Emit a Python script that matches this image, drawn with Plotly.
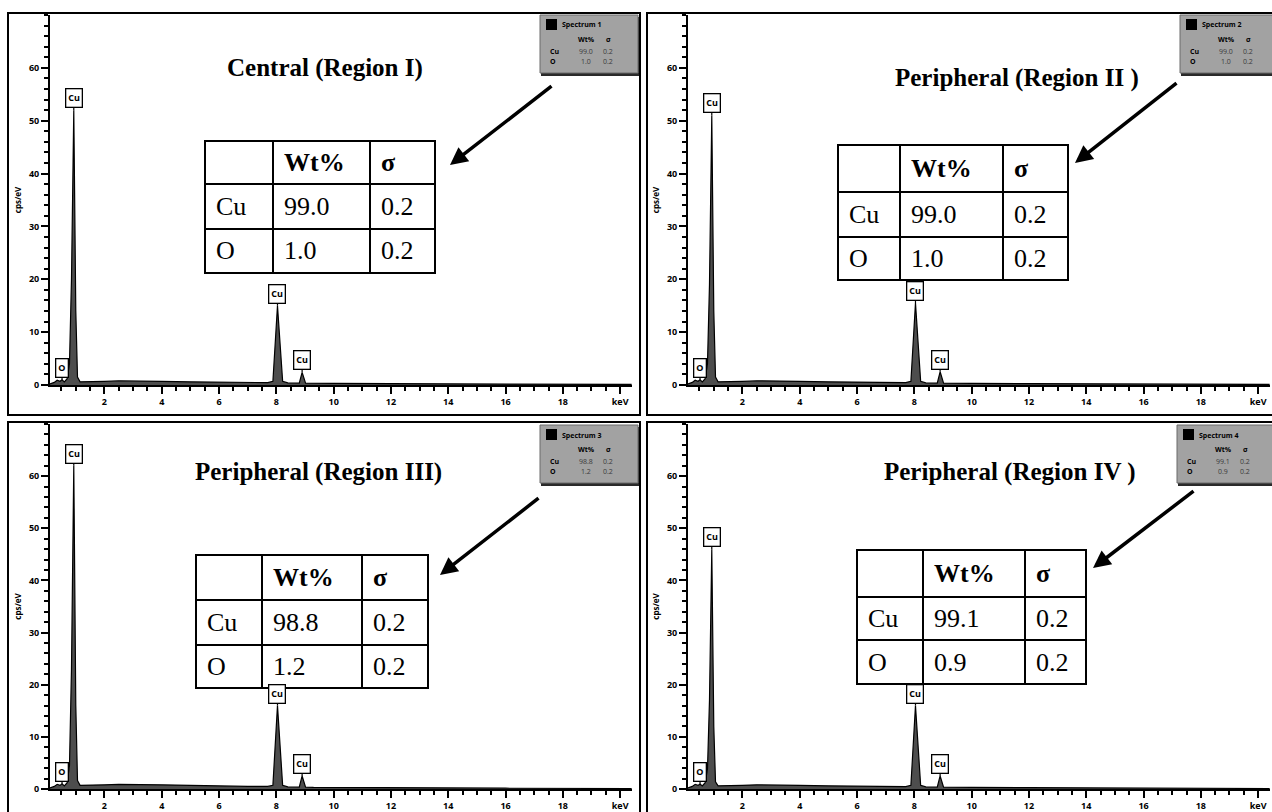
import plotly.graph_objects as go

W, H = 1272, 812

# ---------------- data ----------------
energy_kev = [0.1, 0.25, 0.35, 0.45, 0.52, 0.6, 0.7, 0.78, 0.85, 0.93, 1.0, 1.06, 1.15, 1.4,
              2.0, 2.5, 3.0, 4.0, 5.0, 6.0, 7.0, 7.7, 7.88, 8.04, 8.22, 8.4, 8.8, 8.9, 9.02,
              9.3, 10.0, 12.0, 14.0, 16.0, 18.0, 20.4]

counts_region1 = [0.2, 0.5, 0.9, 0.7, 1.0, 0.6, 1.2, 4.0, 20.0, 52.0, 14.0, 1.5, 0.6, 0.6,
                  0.7, 0.8, 0.8, 0.7, 0.6, 0.5, 0.45, 0.45, 0.7, 15.0, 0.7, 0.4, 0.35, 2.4, 0.35,
                  0.3, 0.3, 0.25, 0.2, 0.15, 0.12, 0.1]
counts_region2 = [0.2, 0.5, 0.9, 0.7, 1.0, 0.6, 1.2, 4.0, 19.0, 51.0, 14.0, 1.5, 0.6, 0.6,
                  0.7, 0.8, 0.8, 0.7, 0.6, 0.5, 0.45, 0.45, 0.7, 15.5, 0.7, 0.4, 0.35, 2.5, 0.35,
                  0.3, 0.3, 0.25, 0.2, 0.15, 0.12, 0.1]
counts_region3 = [0.2, 0.5, 0.9, 0.7, 1.0, 0.6, 1.2, 4.5, 23.0, 62.0, 16.0, 1.6, 0.7, 0.7,
                  0.8, 0.9, 0.9, 0.8, 0.7, 0.55, 0.5, 0.5, 0.7, 16.0, 0.7, 0.4, 0.35, 2.5, 0.35,
                  0.3, 0.3, 0.25, 0.2, 0.15, 0.12, 0.1]
counts_region4 = [0.2, 0.5, 0.9, 0.7, 0.9, 0.6, 1.2, 3.8, 17.0, 46.0, 12.0, 1.4, 0.6, 0.6,
                  0.7, 0.8, 0.8, 0.7, 0.6, 0.5, 0.45, 0.45, 0.7, 16.0, 0.7, 0.4, 0.35, 2.5, 0.35,
                  0.3, 0.3, 0.25, 0.2, 0.15, 0.12, 0.1]

peak_elements = ["O", "Cu", "Cu", "Cu"]
peak_energies = [0.52, 0.93, 8.04, 8.9]

titles = ["Central (Region I)", "Peripheral (Region II )",
          "Peripheral (Region III)", "Peripheral (Region IV )"]
spectrum_names = ["Spectrum 1", "Spectrum 2", "Spectrum 3", "Spectrum 4"]
table_elements = ["Cu", "O"]
wt_cu = ["99.0", "99.0", "98.8", "99.1"]
wt_o = ["1.0", "1.0", "1.2", "0.9"]
sigma_cu = ["0.2", "0.2", "0.2", "0.2"]
sigma_o = ["0.2", "0.2", "0.2", "0.2"]

x_tick_vals = [2, 4, 6, 8, 10, 12, 14, 16, 18, 20]
x_tick_text = ["2", "4", "6", "8", "10", "12", "14", "16", "18", "keV"]
y_tick_vals = [0, 10, 20, 30, 40, 50, 60]

spectra = [counts_region1, counts_region2, counts_region3, counts_region4]

# ---------------- layout geometry (pixels) ----------------
geo = [
    dict(axl=50, axr=632, y0=385, ytop=15, frame=(8, 13, 640, 415),
         cols=[205, 273, 370, 435], rows=[141, 184, 229, 273], title=(325, 68),
         arrow=((553, 85), (450, 165)), box=(540, 15)),
    dict(axl=688, axr=1270, y0=385, ytop=15, frame=(647, 13, 1290, 415),
         cols=[838, 900, 1003, 1068], rows=[145, 192, 237, 280], title=(1017, 78),
         arrow=((1178, 82), (1075, 163)), box=(1180, 15)),
    dict(axl=50, axr=632, y0=789, ytop=424, frame=(8, 422, 640, 830),
         cols=[196, 262, 362, 428], rows=[555, 600, 645, 688], title=(318, 472),
         arrow=((540, 497), (440, 575)), box=(540, 425)),
    dict(axl=688, axr=1270, y0=789, ytop=424, frame=(647, 422, 1290, 830),
         cols=[857, 923, 1025, 1086], rows=[550, 597, 640, 684], title=(1010, 472),
         arrow=((1195, 490), (1093, 568)), box=(1177, 425)),
]


def fx(px):
    return px / W


def fy(py):
    return 1 - py / H


SERIF = "Liberation Serif, Times New Roman, serif"
SANS = "Open Sans, DejaVu Sans, sans-serif"
X_MIN = 0.1
PX_PER_KEV = 28.65

fig = go.Figure()
shapes = []
annotations = []
layout_axes = {}

for i, g in enumerate(geo):
    n = "" if i == 0 else str(i + 1)
    xa, ya = "x" + n, "y" + n
    counts = spectra[i]
    fig.add_trace(go.Scatter(
        x=energy_kev, y=counts, xaxis=xa, yaxis=ya, mode="lines",
        line=dict(color="black", width=1.2), fill="tozeroy",
        fillcolor="#4d4d4d", showlegend=False, hoverinfo="skip"))

    x_max = X_MIN + (g["axr"] - g["axl"]) / PX_PER_KEV
    layout_axes["xaxis" + n] = dict(
        domain=[fx(g["axl"]), fx(g["axr"])], range=[X_MIN, x_max], anchor=ya,
        tickmode="array", tickvals=x_tick_vals, ticktext=x_tick_text,
        ticks="outside", ticklen=7, tickwidth=2, tickcolor="black",
        showline=True, linecolor="black", linewidth=2, showgrid=False, zeroline=False,
        tickfont=dict(family=SANS, size=9, color="black", weight="bold"),
        minor=dict(dtick=0.5, tick0=0, ticks="outside", ticklen=4, tickwidth=1.5,
                   tickcolor="black", showgrid=False),
        fixedrange=True)
    layout_axes["yaxis" + n] = dict(
        domain=[fy(g["y0"]), fy(g["ytop"])], range=[0, 70], anchor=xa,
        tickmode="array", tickvals=y_tick_vals,
        ticks="outside", ticklen=7, tickwidth=2, tickcolor="black",
        showline=True, linecolor="black", linewidth=2, showgrid=False, zeroline=False,
        tickfont=dict(family=SANS, size=9, color="black", weight="bold"),
        minor=dict(dtick=2, tick0=0, ticks="outside", ticklen=4, tickwidth=1.5,
                   tickcolor="black", showgrid=False),
        title=dict(text="cps/eV", font=dict(family=SANS, size=8, color="black", weight="bold"),
                   standoff=6),
        fixedrange=True)

    # peak labels
    for el, e in zip(peak_elements, peak_energies):
        k = energy_kev.index(e)
        annotations.append(dict(
            x=e, y=counts[k], xref=xa, yref=ya, text=el, showarrow=True,
            arrowhead=0, arrowwidth=1.2, arrowcolor="black", ax=0, ay=-12,
            bordercolor="black", borderwidth=1.3, borderpad=2, bgcolor="white",
            font=dict(family=SANS, size=9, color="black", weight="bold")))

    # panel frame
    fx0, fy0, fx1, fy1 = g["frame"]
    shapes.append(dict(type="rect", xref="paper", yref="paper",
                       x0=fx(fx0), x1=fx(fx1), y0=fy(fy0), y1=fy(fy1),
                       line=dict(color="black", width=2), layer="below"))

    # title
    tx, ty = g["title"]
    annotations.append(dict(x=fx(tx), y=fy(ty), xref="paper", yref="paper", showarrow=False,
                            text="<b>" + titles[i] + "</b>", xanchor="center", yanchor="middle",
                            font=dict(family=SERIF, size=25, color="black")))

    # table
    cols, rows = g["cols"], g["rows"]
    shapes.append(dict(type="rect", xref="paper", yref="paper",
                       x0=fx(cols[0]), x1=fx(cols[-1]), y0=fy(rows[0]), y1=fy(rows[-1]),
                       fillcolor="white", line=dict(color="black", width=2)))
    for c in cols[1:-1]:
        shapes.append(dict(type="line", xref="paper", yref="paper", x0=fx(c), x1=fx(c),
                           y0=fy(rows[0]), y1=fy(rows[-1]), line=dict(color="black", width=2)))
    for r in rows[1:-1]:
        shapes.append(dict(type="line", xref="paper", yref="paper", x0=fx(cols[0]), x1=fx(cols[-1]),
                           y0=fy(r), y1=fy(r), line=dict(color="black", width=2)))
    cells = [["", "<b>Wt%</b>", "<b>σ</b>"],
             [table_elements[0], wt_cu[i], sigma_cu[i]],
             [table_elements[1], wt_o[i], sigma_o[i]]]
    for ri, row in enumerate(cells):
        for ci, txt in enumerate(row):
            if not txt:
                continue
            annotations.append(dict(
                x=fx(cols[ci] + 9), y=fy((rows[ri] + rows[ri + 1]) / 2), xref="paper", yref="paper",
                text=txt, showarrow=False, xanchor="left", yanchor="middle",
                font=dict(family=SERIF, size=26, color="black")))

    # arrow
    (tx0, ty0), (hx, hy) = g["arrow"]
    annotations.append(dict(x=fx(hx), y=fy(hy), xref="paper", yref="paper", text="",
                            showarrow=True, arrowhead=2, arrowsize=1, arrowwidth=3.5,
                            arrowcolor="black", ax=tx0 - hx, ay=ty0 - hy, standoff=0))

    # spectrum inset box
    bx, by = g["box"]
    bw, bh = 98, 58
    shapes.append(dict(type="rect", xref="paper", yref="paper",
                       x0=fx(bx + 1), x1=fx(bx + bw + 1), y0=fy(by + 2), y1=fy(by + bh + 3),
                       fillcolor="#2a2a2a", line=dict(width=0)))
    shapes.append(dict(type="rect", xref="paper", yref="paper",
                       x0=fx(bx), x1=fx(bx + bw), y0=fy(by), y1=fy(by + bh),
                       fillcolor="#a2a2a2", line=dict(color="#6a6a6a", width=1)))
    shapes.append(dict(type="rect", xref="paper", yref="paper",
                       x0=fx(bx + 6), x1=fx(bx + 17), y0=fy(by + 4), y1=fy(by + 15),
                       fillcolor="black", line=dict(width=0)))
    small = dict(family=SANS, size=7, color="black", weight="bold")
    small_val = dict(family=SANS, size=7, color="#3a3a3a")
    annotations.append(dict(x=fx(bx + 20), y=fy(by + 10), xref="paper", yref="paper",
                            text=spectrum_names[i], showarrow=False, xanchor="left",
                            yanchor="middle", font=small))
    annotations.append(dict(x=fx(bx + 46), y=fy(by + 24), xref="paper", yref="paper",
                            text="Wt%", showarrow=False, xanchor="center", yanchor="middle", font=small))
    annotations.append(dict(x=fx(bx + 68), y=fy(by + 24), xref="paper", yref="paper",
                            text="σ", showarrow=False, xanchor="center", yanchor="middle", font=small))
    for ri, (el, wv, sv) in enumerate([(table_elements[0], wt_cu[i], sigma_cu[i]),
                                       (table_elements[1], wt_o[i], sigma_o[i])]):
        yy = fy(by + 36 + ri * 11)
        annotations.append(dict(x=fx(bx + 8), y=yy, xref="paper", yref="paper", text=el,
                                showarrow=False, xanchor="left", yanchor="middle", font=small))
        annotations.append(dict(x=fx(bx + 46), y=yy, xref="paper", yref="paper", text=wv,
                                showarrow=False, xanchor="center", yanchor="middle", font=small_val))
        annotations.append(dict(x=fx(bx + 68), y=yy, xref="paper", yref="paper", text=sv,
                                showarrow=False, xanchor="center", yanchor="middle", font=small_val))

fig.update_layout(
    width=W, height=H, margin=dict(l=0, r=0, t=0, b=0, autoexpand=False),
    paper_bgcolor="white", plot_bgcolor="rgba(0,0,0,0)",
    shapes=shapes, annotations=annotations, showlegend=False, **layout_axes)

fig.write_html("out.html", config={"displayModeBar": False},
               post_script="document.body.style.margin='0px';"
                           "document.body.style.overflow='hidden';")
